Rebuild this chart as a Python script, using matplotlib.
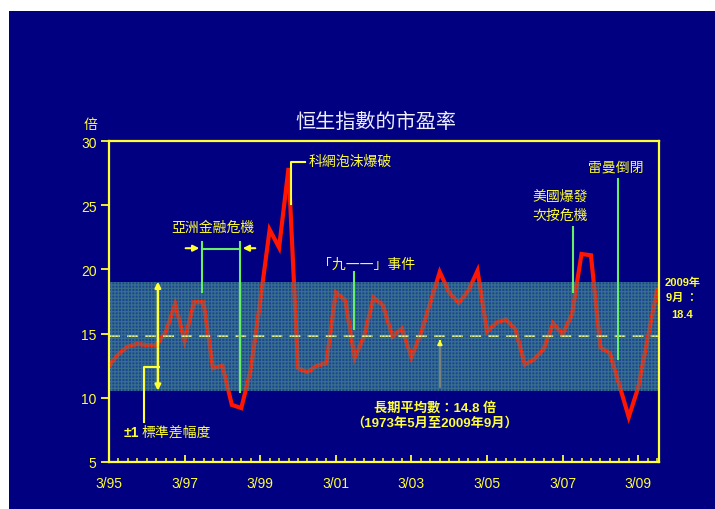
import numpy as np
import matplotlib
matplotlib.use("Agg")
import matplotlib.pyplot as plt
from matplotlib.patches import Rectangle

# Hang Seng Index P/E ratio, quarterly from March 1995 to September 2009
pe_ratio = [
    12.5, 13.4, 14.0, 14.2, 14.1, 14.1, 15.1, 17.3, 14.45, 17.45,
    17.45, 12.3, 12.5, 9.45, 9.2, 12.2, 17.5, 23.1, 21.7, 27.9,
    12.3, 12.0, 12.5, 12.7, 18.2, 17.6, 13.1, 14.8, 17.8, 17.2,
    14.75, 15.4, 13.15, 15.0, 17.4, 19.8, 18.2, 17.4, 18.3, 19.9,
    15.15, 15.85, 16.1, 15.35, 12.6, 13.0, 13.8, 15.8, 14.95, 16.5,
    21.2, 21.1, 13.9, 13.5, 11.0, 8.5, 10.8, 14.6, 18.4,
]
long_term_mean = 14.8
std_dev = 4.25
tick_labels = ["3/95", "3/97", "3/99", "3/01", "3/03", "3/05", "3/07", "3/09"]

start_year = 1995 + 2 / 12
quarters = start_year + 0.25 * np.arange(len(pe_ratio))

NAVY = "#000080"
YELLOW = "#ffff33"
GREEN = "#66ee66"
CJK = ["Noto Sans CJK TC", "DejaVu Sans"]

plt.rcParams["font.family"] = ["Liberation Sans", "Noto Sans CJK TC", "DejaVu Sans"]
plt.rcParams["hatch.linewidth"] = 0.9

fig = plt.figure(figsize=(7.15, 5.10), dpi=100, facecolor="white")
fig.patches.append(Rectangle((9 / 715, 0), 706 / 715, 498 / 510,
                             transform=fig.transFigure, facecolor=NAVY,
                             edgecolor="none", zorder=-5))

ax = fig.add_axes([109 / 715, 1 - 463 / 510, 550 / 715, 321 / 510])
ax.set_zorder(2)
ax.set_facecolor(NAVY)
ax.set_xlim(start_year, start_year + 550 / 37.8)
ax.set_ylim(5, 30)

# ±1 standard deviation band
lo, hi = long_term_mean - std_dev, long_term_mean + std_dev
ax.axhspan(lo, hi, facecolor="#1b4696", edgecolor="none", zorder=1)
ax.axhspan(lo, hi, facecolor="none", edgecolor="#4a8a84", hatch="+++++",
           linewidth=0, alpha=0.6, zorder=3)

# long-term average
ax.axhline(long_term_mean, color="#ffff88", lw=1.3, dashes=(6, 4), zorder=2.5)

# P/E line
ax.plot(quarters, pe_ratio, color="#ff1500", lw=3.0, solid_joinstyle="miter",
        zorder=2)

# spines and ticks
for side in ["left", "right", "top", "bottom"]:
    ax.spines[side].set_color(YELLOW)
    ax.spines[side].set_linewidth(1.6)
    ax.spines[side].set_zorder(6)

ax.set_yticks([5, 10, 15, 20, 25, 30])
ax.tick_params(axis="y", colors=YELLOW, direction="out", length=6, width=1.3,
               labelsize=10, pad=3)
major_x = start_year + 2 * np.arange(len(tick_labels))
ax.set_xticks(major_x)
ax.set_xticklabels(tick_labels)
ax.set_xticks(start_year + 0.25 * np.arange(0, 59), minor=True)
ax.tick_params(axis="x", which="major", colors=YELLOW, direction="in",
               length=5, width=1.3, labelsize=10, pad=10)
ax.tick_params(axis="x", which="minor", colors=YELLOW, direction="in",
               length=3, width=1.1)

# title and unit
fig.text(376 / 715, 1 - 123 / 510, "恒生指數的市盈率", color="#eeeeff",
         fontsize=14.5, ha="center", va="center", family=CJK)
fig.text(91 / 715, 1 - 125 / 510, "倍", color=YELLOW, fontsize=10,
         ha="center", va="center", family=CJK)

ann = dict(color=YELLOW, fontsize=10, family=CJK, zorder=7)

# Asian financial crisis
ax.text(1997.92, 23.3, "亞洲金融危機", ha="center", va="center", **ann)
ax.plot([1997.63, 1997.63], [18.24, 22.1], color=GREEN, lw=1.5, zorder=4)
ax.plot([1998.63, 1998.63], [10.45, 22.1], color=GREEN, lw=1.5, zorder=4)
ax.plot([1997.63, 1998.63], [21.6, 21.6], color=GREEN, lw=1.5, zorder=4)
arrow_y = dict(arrowstyle="-|>", color=YELLOW, lw=1.5, mutation_scale=9)
ax.annotate("", xy=(1997.63, 21.65), xytext=(1997.12, 21.65),
            arrowprops=arrow_y, zorder=5)
ax.annotate("", xy=(1998.63, 21.65), xytext=(1999.11, 21.65),
            arrowprops=arrow_y, zorder=5)

# dot-com bubble
ax.text(2000.46, 28.44, "科網泡沫爆破", ha="left", va="center", **ann)
ax.plot([2000.35, 1999.97, 1999.97], [28.36, 28.36, 25.1], color=YELLOW,
        lw=1.5, zorder=5)

# 9/11
ax.text(2000.70, 20.42, "「九一一」事件", ha="left", va="center", **ann)
ax.plot([2001.65, 2001.65], [15.36, 19.8], color=GREEN, lw=1.5, zorder=4)

# subprime crisis
ax.text(2006.36, 25.72, "美國爆發", ha="left", va="center", **ann)
ax.text(2006.36, 24.24, "次按危機", ha="left", va="center", **ann)
ax.plot([2007.44, 2007.44], [18.24, 23.3], color=GREEN, lw=1.5, zorder=4)

# Lehman collapse
ax.text(2008.58, 28.05, "雷曼倒閉", ha="center", va="center", **ann)
ax.plot([2008.63, 2008.63], [13.0, 27.04], color=GREEN, lw=1.5, zorder=4)

# latest value
bold = dict(color=YELLOW, fontsize=8, fontweight="bold", ha="center",
            va="center", family=["Liberation Sans", "Noto Sans CJK TC"],
            clip_on=False)
ax.text(2010.33, 19.02, "2009年", **bold)
ax.text(2010.33, 17.85, "9月 ：", **bold)
ax.text(2010.33, 16.53, f"{pe_ratio[-1]:.1f}", **bold)

# long-term average note
ax.plot([2003.92, 2003.92], [10.84, 14.3], color="#8a8a7a", lw=1.2, zorder=4)
ax.annotate("", xy=(2003.92, 14.75), xytext=(2003.92, 14.2),
            arrowprops=dict(arrowstyle="-|>", color=YELLOW, lw=1.2,
                            mutation_scale=7), zorder=5)
note = dict(color=YELLOW, fontsize=9.5, fontweight="bold", ha="center",
            va="center", family=["Liberation Sans", "Noto Sans CJK TC"])
ax.text(2003.79, 9.28, f"長期平均數：{long_term_mean} 倍", **note)
ax.text(2003.79, 8.12, "（1973年5月至2009年9月）", **note)

# standard deviation band note
ax.annotate("", xy=(1996.46, hi), xytext=(1996.46, lo),
            arrowprops=dict(arrowstyle="<|-|>", color=YELLOW, lw=1.8,
                            mutation_scale=8, shrinkA=0, shrinkB=0), zorder=5)
ax.plot([1996.09, 1996.09, 1996.49], [8.12, 12.4, 12.4], color=YELLOW,
        lw=1.5, zorder=5)
ax.text(1995.56, 7.34, "±1", color=YELLOW, fontsize=10, fontweight="bold",
        ha="left", va="center", family=["Liberation Sans"], zorder=7)
ax.text(1996.02, 7.34, "標準差幅度", ha="left", va="center", **ann)

fig.savefig("out.png", dpi=100, facecolor="white")
